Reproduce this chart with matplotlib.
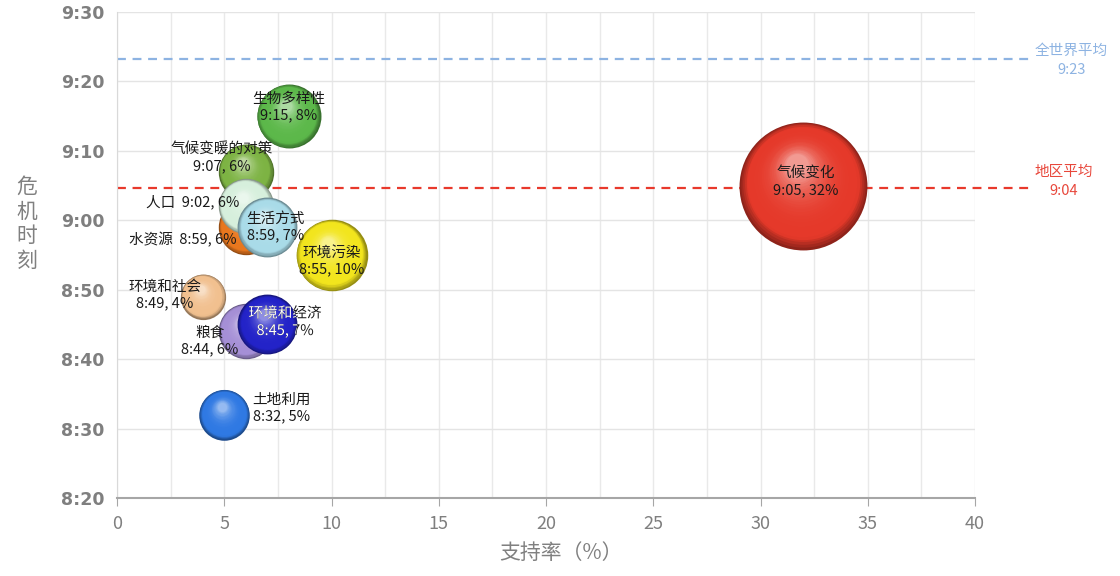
import numpy as np
import matplotlib
matplotlib.use('Agg')
import matplotlib.pyplot as plt
import matplotlib.transforms as mtransforms
from matplotlib.patches import Circle, PathPatch
from matplotlib.textpath import TextPath
from matplotlib.font_manager import FontProperties
from matplotlib.colors import to_rgb
from matplotlib import font_manager

# ---- data -------------------------------------------------------------
topics = ['生物多样性', '气候变暖的对策', '水资源', '人口', '生活方式', '环境污染',
          '环境和社会', '粮食', '环境和经济', '土地利用', '气候变化']
times = ['9:15', '9:07', '8:59', '9:02', '8:59', '8:55',
         '8:49', '8:44', '8:45', '8:32', '9:05']
support = [8, 6, 6, 6, 7, 10, 4, 6, 7, 5, 32]
colors = ['#5cb84a', '#7db343', '#e8771e', '#d6efdc', '#a9dbe8', '#f2e51d',
          '#f1c08f', '#a58fd6', '#2323c8', '#2f79e3', '#e5392a']

world_avg = 563.3   # 9:23
region_avg = 544.7  # 9:04
world_label = '全世界平均\n9:23'
region_label = '地区平均\n9:04'

# label layout: offset (px) from bubble centre, horizontal alignment, one line?
label_style = {
    '生物多样性': (0, 9, 'center', False),
    '气候变暖的对策': (-24, 14, 'center', False),
    '水资源': (-9, -12, 'right', True),
    '人口': (-6, 4, 'right', True),
    '生活方式': (8, 0, 'center', False),
    '环境污染': (0, -6, 'center', False),
    '环境和社会': (-38, 2, 'center', False),
    '粮食': (-36, -10, 'center', False),
    '环境和经济': (18, 3, 'center', False),
    '土地利用': (28, 7, 'left', False),
    '气候变化': (2, 4, 'center', False),
}


def to_min(t):
    h, m = t.split(':')
    return int(h) * 60 + int(m)


minutes = [to_min(t) for t in times]

plt.rcParams['font.family'] = ['Noto Sans CJK SC', 'DejaVu Sans']
names = {f.name for f in font_manager.fontManager.ttflist}
narrow = 'Liberation Sans Narrow' if 'Liberation Sans Narrow' in names else 'Noto Sans CJK SC'

fig = plt.figure(figsize=(11.2, 5.76), dpi=100)
ax = fig.add_axes([117 / 1120, 1 - 498 / 576, (975 - 117) / 1120, (498 - 12) / 576])
ax.set_xlim(0, 40)
ax.set_ylim(500, 570)

PX = 0.72  # px -> points
SIZE_K = 265


def sphere(x, y, s, base, z):
    base = np.array(to_rgb(base))
    dark = base * 0.62
    light = base + (1 - base) * 0.55
    r_pt = np.sqrt(s) / 2
    n = 30
    for i in range(n):
        t = i / n
        if t < 0.14:
            c = dark + (base - dark) * (t / 0.14)
        else:
            c = base + (light - base) * ((t - 0.14) / 0.86) ** 3
        size = s * (1 - 0.85 * t) ** 2
        tr = mtransforms.offset_copy(ax.transData, fig=fig,
                                     x=-0.1 * r_pt * t, y=0.33 * r_pt * t,
                                     units='points')
        ax.scatter([x], [y], s=size, color=np.clip(c, 0, 1), transform=tr,
                   zorder=z, linewidths=0)


def path_label(lines, xv, yv, dx, dy, color, z, clip=None):
    # text drawn as patches so that it can be clipped to the bubble
    prop = FontProperties(family='Noto Sans CJK SC')
    step = 13.7
    n = len(lines)
    for i, s in enumerate(lines):
        tp = TextPath((0, 0), s, size=10.5, prop=prop)
        ext = tp.get_extents()
        cy = dy + (n - 1) / 2 * step - i * step
        trans = (mtransforms.Affine2D()
                 .translate(-(ext.x0 + ext.x1) / 2 + dx, -(ext.y0 + ext.y1) / 2 + cy)
                 .scale(fig.dpi / 72)
                 + mtransforms.ScaledTranslation(xv, yv, ax.transData))
        p = PathPatch(tp, transform=trans, facecolor=color, lw=0, zorder=z)
        ax.add_patch(p)
        if clip is not None:
            p.set_clip_path(clip)


for k, (name, xv, yv, col) in enumerate(zip(topics, support, minutes, colors)):
    sphere(xv, yv, SIZE_K * xv, col, 3 + k * 0.01)

for name, xv, yv, t in zip(topics, support, minutes, times):
    dx, dy, ha, one = label_style[name]
    if name == '环境和经济':
        lines = [name, f'{t}, {xv}%']
        path_label(lines, xv, yv, dx * PX, dy * PX, '#1a1a1a', 20)
        r_pt = np.sqrt(SIZE_K * xv) / 2
        ctrans = (mtransforms.Affine2D().scale(fig.dpi / 72)
                  + mtransforms.ScaledTranslation(xv, yv, ax.transData))
        clip = Circle((0, 0), r_pt, transform=ctrans)
        path_label(lines, xv, yv, dx * PX, dy * PX, 'white', 21, clip=clip)
        continue
    txt = f'{name}  {t}, {xv}%' if one else f'{name}\n{t}, {xv}%'
    ax.annotate(txt, (xv, yv), xytext=(dx * PX, dy * PX), textcoords='offset points',
                ha=ha, va='center', multialignment='center', fontsize=10.5,
                linespacing=1.25, zorder=20, color='#1a1a1a')

# reference lines
x_end = 42.5
ax.plot([0, x_end], [world_avg, world_avg], color='#8db3e2', lw=1.6,
        dashes=(4, 3), clip_on=False, zorder=2)
ax.plot([0, x_end], [region_avg, region_avg], color='#e8392c', lw=1.6,
        dashes=(4, 3), clip_on=False, zorder=2)
ax.annotate(world_label, (x_end, world_avg), xytext=(6 * PX, -2 * PX),
            textcoords='offset points', ha='left', va='center',
            multialignment='center', fontsize=10.5, color='#8db3e2',
            linespacing=1.4, annotation_clip=False)
ax.annotate(region_label, (x_end, region_avg), xytext=(6 * PX, 6 * PX),
            textcoords='offset points', ha='left', va='center',
            multialignment='center', fontsize=10.5, color='#e8473b',
            linespacing=1.4, annotation_clip=False)

# axes
ax.set_xticks(np.arange(0, 41, 5))
ax.set_xticks(np.arange(0, 41, 2.5), minor=True)
ax.set_yticks(np.arange(500, 571, 10))
ax.set_yticklabels([f'{v // 60}:{v % 60:02d}' for v in range(500, 571, 10)])
ax.grid(which='both', axis='x', color='#e9e9e9', lw=1)
ax.grid(which='major', axis='y', color='#e4e4e4', lw=1)
ax.set_axisbelow(True)
for sp in ['top', 'right']:
    ax.spines[sp].set_visible(False)
ax.spines['left'].set_color('#d9d9d9')
ax.spines['bottom'].set_color('#a6a6a6')
ax.spines['bottom'].set_linewidth(1.5)
ax.tick_params(axis='x', which='major', length=6, color='#a6a6a6', pad=6)
ax.tick_params(axis='x', which='minor', length=0)
ax.tick_params(axis='y', length=0, pad=9)
for lb in ax.get_xticklabels():
    lb.set_fontfamily(narrow)
    lb.set_fontsize(13)
    lb.set_color('#7f7f7f')
for lb in ax.get_yticklabels():
    lb.set_fontfamily('DejaVu Sans')
    lb.set_fontsize(12.5)
    lb.set_fontweight('bold')
    lb.set_color('#7f7f7f')

ax.text(0.517, -0.113, '支持率（%）', transform=ax.transAxes, ha='center', va='center',
        fontsize=15, color='#808080')
fig.text(27 / 1120, 1 - 224 / 576, '危\n机\n时\n刻', ha='center', va='center',
         fontsize=15, color='#808080', linespacing=1.15)

fig.savefig('out.png', dpi=100)
